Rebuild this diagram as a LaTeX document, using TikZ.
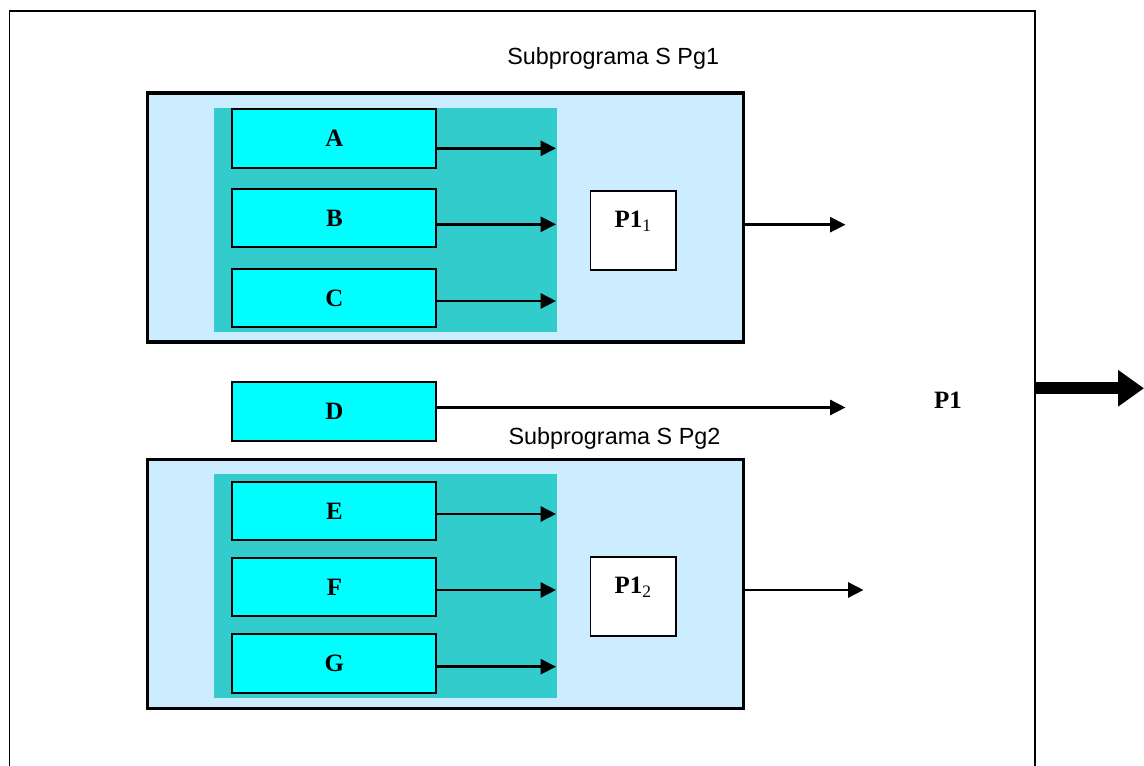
\documentclass[tikz,border=0pt]{standalone}
\usepackage{fontspec}
\setmainfont{Liberation Serif}
\setsansfont{Liberation Sans}
\usetikzlibrary{arrows.meta}
\definecolor{paleblue}{HTML}{CCECFF}
\definecolor{darkteal}{HTML}{33CCCC}
\definecolor{brightcyan}{HTML}{00FFFF}
\tikzset{
	subbox/.style={draw=black, line width=1.9pt, fill=paleblue, minimum width=11.92cm, minimum height=4.98cm, inner sep=0pt},
	tealarea/.style={fill=darkteal, minimum width=6.88cm, minimum height=4.47cm, inner sep=0pt},
	letterbox/.style={draw=black, line width=1.1pt, fill=brightcyan, minimum width=4.08cm, minimum height=1.17cm, inner sep=0pt, font=\fontsize{14.2}{17}\selectfont\bfseries},
	resbox/.style={draw=black, line width=0.85pt, fill=white, minimum width=1.71cm, inner sep=0pt, text height=0.73cm, text depth=0.85cm, font=\fontsize{14.2}{17}\selectfont\bfseries},
	subtitle/.style={anchor=base west, inner sep=0pt, font=\fontsize{13.3}{16}\selectfont\sffamily},
	feed/.style={line width=1.4pt, -{Triangle[length=8.7pt, width=8.5pt]}},
}
\begin{document}
\begin{tikzpicture}[x=0.02cm, y=-0.02cm]
		\useasboundingbox (0, 0) rectangle (1144, 766);

		% Draw outer frame
		\draw[black, line width=1pt] (9.6, 766) -- (9.6, 11.2) -- (1035, 11.2) -- (1035, 766);
		\coordinate (frameout) at (1035, 388.3);
		\coordinate (bigtip) at (1144, 388.3);
		\draw[line width=6.8pt, -{Triangle[length=14.7pt, width=19.8pt]}] (frameout) -- (bigtip);
		\node[font=\fontsize{14.2}{17}\selectfont\bfseries] (total) at (948, 400) {P1};

		% First subprogram
		\node[subtitle] (title1) at (507, 65) {Subprograma S Pg1};
		\node[subbox] (sub1) at (445.5, 217.6) {};
		\node[tealarea] (teal1) at (385.5, 220) {};
		\node[letterbox] (a) at (334.4, 138.7) {A};
		\node[letterbox] (b) at (334.4, 218.0) {B};
		\node[letterbox] (c) at (334.4, 298.0) {C};
		\node[resbox] (p11) at (633.3, 230.4) {P1\textsubscript{\mdseries 1}};
		\coordinate (ta) at (556, 148.3);
		\coordinate (tb) at (556, 224.3);
		\coordinate (tc) at (556, 301.0);
		\coordinate (ts1) at (845.5, 224.7);
		\draw[feed] (a.east |- ta) -- (ta);
		\draw[feed] (b.east |- tb) -- (tb);
		\draw[feed] (c.east |- tc) -- (tc);
		\draw[feed] (sub1.east |- ts1) -- (ts1);

		% Lone input
		\node[letterbox] (d) at (334.4, 411.7) {D};
		\coordinate (td) at (845.5, 407.5);
		\draw[feed] (d.east |- td) -- (td);

		% Second subprogram
		\node[subtitle] (title2) at (508.3, 445) {Subprograma S Pg2};
		\node[subbox] (sub2) at (445.3, 584) {};
		\node[tealarea] (teal2) at (385.5, 586) {};
		\node[letterbox] (e) at (334.4, 511.0) {E};
		\node[letterbox] (f) at (334.4, 587.2) {F};
		\node[letterbox] (g) at (334.4, 663.7) {G};
		\node[resbox] (p12) at (633.2, 596.3) {P1\textsubscript{\mdseries 2}};
		\coordinate (te) at (556, 514.0);
		\coordinate (tf) at (556, 590.0);
		\coordinate (tg) at (556, 666.7);
		\coordinate (ts2) at (863.5, 590.0);
		\draw[feed] (e.east |- te) -- (te);
		\draw[feed] (f.east |- tf) -- (tf);
		\draw[feed] (g.east |- tg) -- (tg);
		\draw[feed] (sub2.east |- ts2) -- (ts2);
\end{tikzpicture}
\end{document}
